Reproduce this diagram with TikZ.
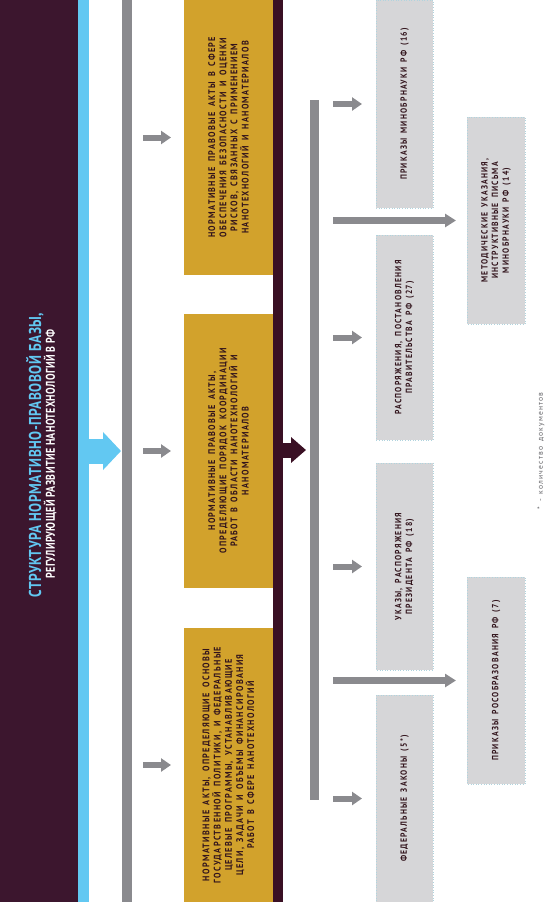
\documentclass[tikz,border=0pt]{standalone}
\usepackage{fontspec}
\usetikzlibrary{arrows.meta}
\newfontfamily\capsfont[FakeStretch=0.85,LetterSpace=14,WordSpace=1.6]{PT Sans}
\newfontfamily\titlefont[FakeStretch=0.78,LetterSpace=3]{PT Sans}
\newfontfamily\notefont[LetterSpace=15,WordSpace=1.6]{PT Sans}
\definecolor{bandc}{RGB}{60,22,46}
\definecolor{skyc}{RGB}{98,200,242}
\definecolor{goldc}{RGB}{210,162,44}
\definecolor{barc}{RGB}{138,138,142}
\definecolor{maroonc}{RGB}{58,16,36}
\definecolor{inkc}{RGB}{50,20,28}
\definecolor{boxc}{RGB}{214,214,216}
\definecolor{edgec}{RGB}{176,212,222}
\definecolor{notec}{RGB}{100,100,104}
\tikzset{
  bar/.style={fill=#1,draw=none,inner sep=0pt,outer sep=0pt,rectangle},
  goldbox/.style={rotate=90,fill=goldc,draw=none,inner sep=0pt,outer sep=0pt,
     align=center,text=inkc,font=\capsfont\bfseries\fontsize{9.6}{11.2}\selectfont},
  greybox/.style={rotate=90,fill=boxc,draw=edgec,dotted,line width=0.6pt,inner sep=0pt,outer sep=0pt,
     align=center,text=inkc,font=\capsfont\bfseries\fontsize{9}{10.6}\selectfont},
  sarrow/.style={draw=barc,line width=6pt,-{Triangle[length=10pt,width=13pt]}},
  larrow/.style={draw=barc,line width=6.5pt,-{Triangle[length=11pt,width=13pt]}},
}
\begin{document}
\begin{tikzpicture}[x=1pt,y=-1pt]
\useasboundingbox (0,0) rectangle (546,902);
% left band and strips
\node[bar=bandc,minimum width=78pt,minimum height=902pt,anchor=north west] (band) at (0,0) {};
\node[bar=skyc,minimum width=11pt,minimum height=902pt,anchor=north west] (strip) at (78,0) {};
\node[bar=barc,minimum width=9.5pt,minimum height=902pt,anchor=north west] (bar1) at (122,0) {};
\node[bar=maroonc,minimum width=10pt,minimum height=902pt,anchor=north west] (bar3) at (273,0) {};
\node[bar=barc,minimum width=9pt,minimum height=700pt,anchor=north west] (bar2) at (310,100) {};
% title
\node[rotate=90,text=skyc,font=\titlefont\bfseries\fontsize{17.2}{18}\selectfont,inner sep=0pt] (t1) at (35,455) {СТРУКТУРА НОРМАТИВНО-ПРАВОВОЙ БАЗЫ,};
\node[rotate=90,text=white,font=\titlefont\bfseries\fontsize{12.7}{14}\selectfont,inner sep=0pt] (t2) at (50,454) {РЕГУЛИРУЮЩЕЙ РАЗВИТИЕ НАНОТЕХНОЛОГИЙ В РФ};
% gold boxes
\node[goldbox,minimum width=275pt,minimum height=89pt] (g1) at (228.5,137.5)
 {НОРМАТИВНЫЕ ПРАВОВЫЕ АКТЫ В СФЕРЕ\\ОБЕСПЕЧЕНИЯ БЕЗОПАСНОСТИ И ОЦЕНКИ\\РИСКОВ, СВЯЗАННЫХ С ПРИМЕНЕНИЕМ\\НАНОТЕХНОЛОГИЙ И НАНОМАТЕРИАЛОВ};
\node[goldbox,minimum width=274pt,minimum height=89pt] (g2) at (228.5,451)
 {НОРМАТИВНЫЕ ПРАВОВЫЕ АКТЫ,\\ОПРЕДЕЛЯЮЩИЕ ПОРЯДОК КООРДИНАЦИИ\\РАБОТ В ОБЛАСТИ НАНОТЕХНОЛОГИЙ И\\НАНОМАТЕРИАЛОВ};
\node[goldbox,minimum width=274pt,minimum height=89pt] (g3) at (228.5,765)
 {НОРМАТИВНЫЕ АКТЫ, ОПРЕДЕЛЯЮЩИЕ ОСНОВЫ\\ГОСУДАРСТВЕННОЙ ПОЛИТИКИ, И ФЕДЕРАЛЬНЫЕ\\ЦЕЛЕВЫЕ ПРОГРАММЫ, УСТАНАВЛИВАЮЩИЕ\\ЦЕЛИ, ЗАДАЧИ И ОБЪЕМЫ ФИНАНСИРОВАНИЯ\\РАБОТ В СФЕРЕ НАНОТЕХНОЛОГИЙ};
% grey boxes, first column
\node[greybox,minimum width=208pt,minimum height=57pt] (pa) at (404.5,104) {ПРИКАЗЫ МИНОБРНАУКИ РФ (16)};
\node[greybox,minimum width=205pt,minimum height=57pt] (pb) at (404.5,337.5) {РАСПОРЯЖЕНИЯ, ПОСТАНОВЛЕНИЯ\\ПРАВИТЕЛЬСТВА РФ (27)};
\node[greybox,minimum width=207pt,minimum height=57pt] (pc) at (404.5,566.5) {УКАЗЫ, РАСПОРЯЖЕНИЯ\\ПРЕЗИДЕНТА РФ (18)};
\node[greybox,minimum width=207pt,minimum height=57pt] (pd) at (404.5,798.5) {ФЕДЕРАЛЬНЫЕ ЗАКОНЫ (5*)};
% grey boxes, second column
\node[greybox,minimum width=207pt,minimum height=58pt] (pe) at (496,220.5) {МЕТОДИЧЕСКИЕ УКАЗАНИЯ,\\ИНСТРУКТИВНЫЕ ПИСЬМА\\МИНОБРНАУКИ РФ (14)};
\node[greybox,minimum width=207pt,minimum height=58pt] (pf) at (496,680.5) {ПРИКАЗЫ РОСОБРАЗОВАНИЯ РФ (7)};
% footnote
\node[rotate=90,text=notec,font=\notefont\fontsize{7.6}{9}\selectfont,inner sep=0pt] (fn) at (541,451) {* - количество документов};
% start points of arrows
\coordinate (sl) at (143,0);
\coordinate (sr) at (333,0);
% big arrows
\draw[draw=skyc,line width=25pt,-{Triangle[length=18pt,width=37pt]},shorten >=1pt] (strip.east |- g2.center) -- (bar1.west |- g2.center);
\draw[draw=maroonc,line width=15pt,-{Triangle[length=15pt,width=25pt]},shorten >=4pt] (bar3.east |- 0,450) -- (bar2.west |- 0,450);
% small arrows left
\draw[sarrow,shorten >=13pt] (sl |- g1.center) -- (g1.north);
\draw[sarrow,shorten >=13pt] (sl |- g2.center) -- (g2.north);
\draw[sarrow,shorten >=13pt] (sl |- g3.center) -- (g3.north);
% small arrows right
\draw[sarrow,shorten >=14pt] (sr |- pa.center) -- (pa.north);
\draw[sarrow,shorten >=14pt] (sr |- pb.center) -- (pb.north);
\draw[sarrow,shorten >=14pt] (sr |- pc.center) -- (pc.north);
\draw[sarrow,shorten >=14pt] (sr |- pd.center) -- (pd.north);
% long arrows
\draw[larrow,shorten >=11pt] (sr |- pe.center) -- (pe.north);
\draw[larrow,shorten >=11pt] (sr |- pf.center) -- (pf.north);
\end{tikzpicture}
\end{document}
